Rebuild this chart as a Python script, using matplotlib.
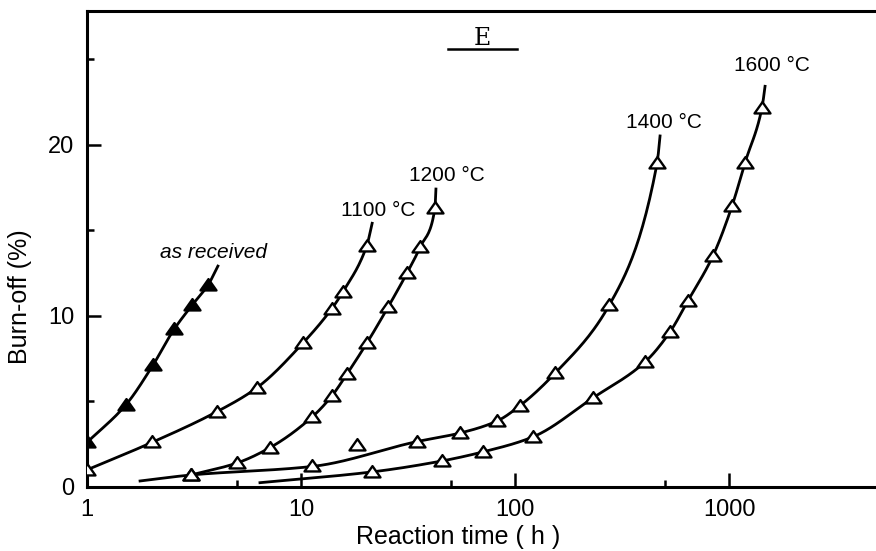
"""
Burn-off vs reaction time (sample E), redrawn from a scanned figure.
"""

import numpy as np
import matplotlib
matplotlib.use("Agg")
import matplotlib.pyplot as plt
from matplotlib.lines import Line2D
from matplotlib.path import Path

# values: reaction time (h) / burn-off (%)
t_as_received = [1.0, 1.52, 2.03, 2.55, 3.09, 3.68]
b_as_received = [2.6, 4.8, 7.1, 9.2, 10.6, 11.8]

t_1100 = [1.0, 2.01, 4.05, 6.23, 10.2, 13.9, 15.7, 20.3]
b_1100 = [1.0, 2.6, 4.4, 5.8, 8.4, 10.4, 11.4, 14.1]

t_1200 = [3.06, 5.02, 7.17, 11.3, 13.9, 16.4, 20.3, 25.5, 31.3, 36.0, 42.3]
b_1200 = [0.7, 1.4, 2.3, 4.1, 5.3, 6.6, 8.4, 10.5, 12.5, 14.0, 16.3]

t_1400 = [3.06, 11.3, 18.3, 34.8, 55.3, 82.4, 105.5, 154, 275, 461]
b_1400 = [0.7, 1.2, 2.45, 2.65, 3.15, 3.85, 4.75, 6.65, 10.6, 18.9]

t_1600 = [21.5, 45.6, 70.9, 121, 231, 405, 530, 643, 841, 1032, 1188, 1426]
b_1600 = [0.88, 1.52, 2.05, 2.92, 5.2, 7.3, 9.06, 10.88, 13.5, 16.4, 18.95, 22.16]

# where the hand-drawn curves begin / end beyond the markers (None = at first marker)
ends_as_received = (None, (4.09, 12.9))
ends_1100 = (None, (21.5, 15.4))
ends_1200 = (None, (42.7, 17.4))
ends_1400 = ((1.77, 0.35), (476, 20.5))
ends_1600 = ((6.43, 0.25), (1473, 23.4))

# markers the drawn curve does not pass through
off_curve_1400 = [18.3]

series_labels = ["as received", "1100 °C", "1200 °C", "1400 °C", "1600 °C"]

x_ticks = [1, 10, 100, 1000]
x_minor = [5, 50, 500]
y_ticks = [0, 10, 20]
y_minor = [5, 15, 25]


def pchip(x, y, xs):
    """Monotone cubic through the knots (no scipy here)."""
    x = np.asarray(x, float)
    y = np.asarray(y, float)
    h = np.diff(x)
    d = np.diff(y) / h
    m = np.zeros_like(y)
    m[0], m[-1] = d[0], d[-1]
    for k in range(1, len(x) - 1):
        if d[k - 1] * d[k] > 0:
            w1 = 2 * h[k] + h[k - 1]
            w2 = h[k] + 2 * h[k - 1]
            m[k] = (w1 + w2) / (w1 / d[k - 1] + w2 / d[k])
    idx = np.clip(np.searchsorted(x, xs) - 1, 0, len(x) - 2)
    s = (xs - x[idx]) / h[idx]
    h00 = 2 * s**3 - 3 * s**2 + 1
    h10 = s**3 - 2 * s**2 + s
    h01 = -2 * s**3 + 3 * s**2
    h11 = s**3 - s**2
    return (h00 * y[idx] + h10 * h[idx] * m[idx]
            + h01 * y[idx + 1] + h11 * h[idx] * m[idx + 1])


def curve(t, b, ends, skip=()):
    kt = [ti for ti in t if ti not in skip]
    kb = [bi for ti, bi in zip(t, b) if ti not in skip]
    start, stop = ends
    if start is not None:
        kt, kb = [start[0]] + kt, [start[1]] + kb
    if stop is not None:
        kt, kb = kt + [stop[0]], kb + [stop[1]]
    lx = np.log10(kt)
    xs = np.linspace(lx[0], lx[-1], 300)
    return 10 ** xs, pchip(lx, kb, xs)


plt.rcParams['font.family'] = ['Liberation Sans', 'DejaVu Sans']

fig = plt.figure(figsize=(8.76, 5.51), dpi=100)
ax = fig.add_axes([0.0993, 0.1162, 0.9007, 0.8639])

# flattish triangle like the scanned symbols
tri = Path([(-1, -0.62), (1, -0.62), (0, 0.8), (-1, -0.62)],
           [Path.MOVETO, Path.LINETO, Path.LINETO, Path.CLOSEPOLY])
lw = 2.0

series = [
    (t_as_received, b_as_received, ends_as_received, (), 'black'),
    (t_1100, b_1100, ends_1100, (), 'white'),
    (t_1200, b_1200, ends_1200, (), 'white'),
    (t_1400, b_1400, ends_1400, off_curve_1400, 'white'),
    (t_1600, b_1600, ends_1600, (), 'white'),
]

for t, b, ends, skip, face in series:
    cx, cy = curve(t, b, ends, skip)
    ax.plot(cx, cy, color='black', lw=lw, zorder=2)
    ax.plot(t, b, linestyle='none', marker=tri, markersize=11.5,
            markerfacecolor=face, markeredgecolor='black',
            markeredgewidth=1.7, zorder=3)

# curve labels
label_pos = [(3.92, 13.68), (22.9, 16.14), (48.1, 18.19), (497, 21.29), (1588, 24.6)]
for text, (lx, ly) in zip(series_labels, label_pos):
    style = 'italic' if text == "as received" else 'normal'
    ax.text(lx, ly, text, ha='center', va='center', fontsize=15, style=style)

# sample tag, underlined
ax.text(0.5006, 0.943, "E", transform=ax.transAxes, ha='center', va='center',
        fontsize=17, family='DejaVu Serif')
ax.add_line(Line2D([0.4575, 0.545], [0.920, 0.920], transform=ax.transAxes,
                   color='black', lw=1.8))

ax.set_xscale('log')
ax.set_xlim(1, 4860)
ax.set_ylim(0, 27.8)

ax.set_xticks(x_ticks)
ax.set_xticklabels([str(v) for v in x_ticks])
ax.set_xticks(x_minor, minor=True)
ax.set_xticklabels([], minor=True)
ax.set_yticks(y_ticks)
ax.set_yticks(y_minor, minor=True)

ax.tick_params(which='both', direction='in', width=1.8, top=False, right=False,
               labelsize=17)
ax.tick_params(which='major', length=10, pad=9)
ax.tick_params(which='minor', length=5)

for side in ['left', 'bottom', 'top']:
    ax.spines[side].set_linewidth(2.2)
ax.spines['right'].set_visible(False)

ax.set_xlabel("Reaction time ( h )", fontsize=18)
ax.set_ylabel("Burn-off (%)", fontsize=18)
ax.xaxis.set_label_coords(0.470, -0.080)
ax.yaxis.set_label_coords(-0.0697, 0.40)

fig.savefig("out.png", dpi=100, facecolor='white')
